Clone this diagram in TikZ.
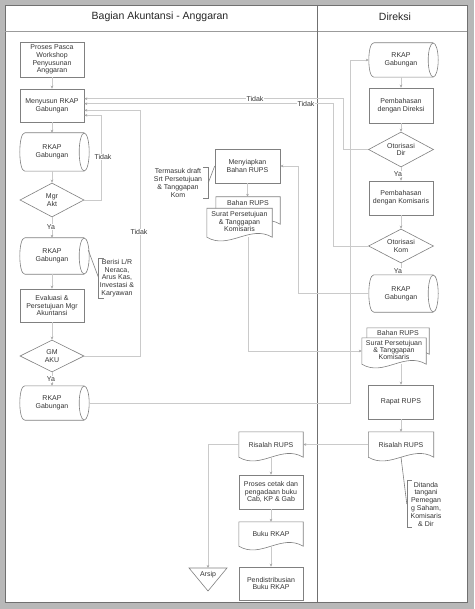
\documentclass[tikz,border=0pt]{standalone}
\usepackage{fontspec}
\setmainfont{Liberation Sans}
\usetikzlibrary{shapes.geometric,calc,arrows.meta,backgrounds}
\definecolor{shp}{HTML}{808080}
\definecolor{cn}{HTML}{CACACA}
\definecolor{tx}{HTML}{353535}
\definecolor{fr}{HTML}{707070}
\newcommand\drawcyl[2]{%
 \begin{pgfonlayer}{background}
 \draw[shpline] ($(#1.north west)+(5,0)$) -- (#1.north east)
   ($(#1.south west)+(5,0)$) -- (#1.south east)
   ($(#1.north west)+(5,0)$) .. controls ($(#1.north west)+(-1.67,0)$) and ($(#1.south west)+(-1.67,0)$) .. ($(#1.south west)+(5,0)$);
 \draw[shpline] (#1.east) ellipse [x radius=5, y radius=#2];
 \end{pgfonlayer}}
\newcommand\drawdoc[1]{%
 \begin{pgfonlayer}{background}
 \draw[shpline, fill=white] (#1.south west) -- (#1.north west) -- (#1.north east) -- (#1.south east)
   .. controls ($(#1.south east)+(-22,-13)$) and ($(#1.south west)+(22,13)$) .. (#1.south west) -- cycle;
 \end{pgfonlayer}}
\begin{document}
\begin{tikzpicture}[x=1pt,y=-1pt,
  every node/.style={text=tx, font=\fontsize{7}{7.8}\selectfont, align=center, inner sep=1pt},
  shpline/.style={draw=shp, line width=0.6pt},
  procbox/.style={rectangle, shpline, minimum width=64pt, minimum height=34pt},
  decbox/.style={diamond, shpline, minimum width=64pt, minimum height=34pt, aspect=1.9, inner sep=0pt},
  cylbox/.style={rectangle, minimum width=64pt, minimum height=36pt},
  docbox/.style={rectangle, minimum width=64pt, minimum height=25pt, inner sep=0.5pt},
  conn/.style={draw=cn, line width=0.5pt, -{Stealth[length=3pt,width=2.6pt,color=shp!70]}},
  lnk/.style={shpline},
  lbl/.style={fill=white, inner sep=0.6pt},
  tight/.style={font=\fontsize{7}{7.4}\selectfont},
  framec/.style={draw=fr, line width=0.7pt},
  head/.style={font=\fontsize{10.5}{12}\selectfont, text=black!85}
]
\useasboundingbox (0,0) rectangle (474,609);
\begin{pgfonlayer}{background}
\fill[black!28] (0,0) rectangle (474,609);
\fill[white] (5,5) rectangle (467,602);
\draw[framec] (5,5) rectangle (467,602);
\draw[framec, draw=fr!70] (5,31) -- (467,31);
\draw[framec] (317,5) -- (317,602);
\end{pgfonlayer}
\node[head] (h1) at (160,16.5) {Bagian Akuntansi - Anggaran};
\node[head] (h2) at (395,16.5) {Direksi};

% ---------- left column ----------
\node[procbox, minimum height=35pt] (p1) at (52,59.5) {Proses Pasca\\Workshop\\Penyusunan\\Anggaran};
\node[procbox, minimum height=33pt] (p2) at (52,105.5) {Menyusun RKAP\\Gabungan};
\node[cylbox, minimum height=38pt] (c1) at (52,152) {RKAP\\Gabungan};
\drawcyl{c1}{19}
\node[decbox] (d1) at (52,200) {Mgr\\Akt};
\node[cylbox, minimum height=36pt] (c2) at (52,256) {RKAP\\Gabungan};
\drawcyl{c2}{18}
\node[procbox, minimum height=33pt] (p3) at (52,305.5) {Evaluasi \&\\Persetujuan Mgr\\Akuntansi};
\node[decbox, minimum height=32pt] (d2) at (52,356) {GM\\AKU};
\node[cylbox, minimum height=34pt] (c3) at (52,403) {RKAP\\Gabungan};
\drawcyl{c3}{17}

\node (n1) at (117,278) {Berisi L/R\\Neraca,\\Arus Kas,\\Investasi \&\\Karyawan};
\draw[lnk] ($(n1.north west)+(5,0)$) -- (n1.north west) -- (n1.south west) -- ++(5,0);
\draw[lnk] ($(c2.east)+(4,-6)$) -- (n1.west);

% ---------- middle column ----------
\node[procbox, minimum width=65pt] (p4) at (247.5,166) {Menyiapkan\\Bahan RUPS};
\node[minimum width=60pt] (n2) at (178,183) {Termasuk draft\\Srt Persetujuan\\\& Tanggapan\\Kom};
\draw[lnk] ($(n2.north east)+(-5,0)$) -- (n2.north east) -- (n2.south east) -- ++(-5,0);
\draw[lnk] (n2.east) -- (p4.west);

\node[docbox, minimum height=27pt] (md1b) at (248,210.5) {};
\drawdoc{md1b}
\node[docbox, minimum width=65pt, minimum height=28.5pt] (md1f) at (239.5,222.75) {};
\drawdoc{md1f}
\node[tight] (md1t) at (239.5,221.5) {Surat Persetujuan\\\& Tanggapan\\Komisaris};
\node (md1l) at (248,202.5) {Bahan RUPS};

\node[docbox] (r1) at (271,444.5) {Risalah RUPS};
\drawdoc{r1}
\node[procbox] (p5) at (271,492) {Proses cetak dan\\pengadaan buku\\Cab, KP \& Gab};
\node[docbox, minimum height=24pt] (bk) at (271,534) {Buku RKAP};
\drawdoc{bk}
\node[procbox, minimum height=33pt] (p6) at (271,583.5) {Pendistribusian\\Buku RKAP};
\draw[shpline] (189,568) -- (227,568) -- (208,591) -- cycle;
\node (arsip) at (208,574.5) {Arsip};
\coordinate (arsiptop) at (208,568);

% ---------- right column ----------
\node[cylbox, minimum height=34pt] (c4) at (401,60) {RKAP\\Gabungan};
\drawcyl{c4}{17}
\node[procbox, minimum height=35pt] (p7) at (401,105.5) {Pembahasan\\dengan Direksi};
\node[decbox, minimum width=65pt, minimum height=35pt] (d3) at (401,149.5) {Otorisasi\\Dir};
\node[procbox] (p8) at (401,198) {Pembahasan\\dengan Komisaris};
\node[decbox, minimum width=65pt] (d4) at (401,246) {Otorisasi\\Kom};
\node[cylbox, minimum height=37pt] (c5) at (401,293.5) {RKAP\\Gabungan};
\drawcyl{c5}{18.5}
\node[docbox, minimum width=62pt, minimum height=26pt] (md2b) at (398,341) {};
\drawdoc{md2b}
\node[docbox, minimum height=26pt] (md2f) at (394,351) {};
\drawdoc{md2f}
\node[tight] (md2t) at (394,350) {Surat Persetujuan\\\& Tanggapan\\Komisaris};
\node (md2l) at (398,333) {Bahan RUPS};
\node[procbox, minimum width=65pt] (p9) at (401,402) {Rapat RUPS};
\node[docbox, minimum width=65pt] (r2) at (401,444.5) {Risalah RUPS};
\drawdoc{r2}
\node[minimum width=38pt] (n3) at (426,504) {Ditanda\\tangani\\Pemegan\\g Saham,\\Komisaris\\\& Dir};
\draw[lnk] ($(n3.north west)+(5,0)$) -- (n3.north west) -- (n3.south west) -- ++(5,0);
\draw[lnk] (r2.south) -- (n3.west);

% ---------- connectors ----------
\draw[conn] (p1) -- (p2);
\draw[conn] (p2) -- (c1);
\draw[conn] (c1) -- (d1);
\draw[conn] (d1) -- (c2);
\draw[conn] (c2) -- (p3);
\draw[conn] (p3) -- (d2);
\draw[conn] (d2) -- (c3);
\node[lbl] (ya1) at (51,227) {Ya};
\node[lbl] (ya2) at (51,379) {Ya};

\draw[conn] (d1.east) -- ++(17,0) |- ($(p2.south east)+(0,-7)$);
\draw[conn] (d2.east) -- ++(56,0) |- ($(p2.south east)+(0,-12)$);
\draw[conn] (d3.west) -- ++(-25,0) |- ($(p2.north east)+(0,10)$);
\draw[conn] (d4.west) -- ++(-34.5,0) |- ($(p2.north east)+(0,15)$);
\node[lbl] (t1) at (103,157) {Tidak};
\node[lbl] (t2) at (139,232) {Tidak};
\node[lbl] (t3) at (255,99) {Tidak};
\node[lbl] (t4) at (306,104) {Tidak};

\draw[conn] ($(c3.east)+(5,0)$) -| ($(c4.west)+(-19,0)$) -- (c4.west);

\draw[conn] (c4) -- (p7);
\draw[conn] (p7) -- (d3);
\draw[conn] (d3) -- (p8);
\draw[conn] (p8) -- (d4);
\draw[conn] (d4) -- (c5);
\node[lbl] (ya3) at (398,174) {Ya};
\node[lbl] (ya4) at (398,271) {Ya};

\draw[conn] (c5.west) -- ++(-71,0) |- (p4.east);
\draw[conn] (p4.south) -- (p4.south |- md1b.north);
\draw[conn] (md1b.south |- md1f.south) |- (md2f.west);
\draw[conn] (p9.north |- md2f.south) -- (p9.north);
\draw[conn] (p9) -- (r2);
\draw[conn] (r2.west) -- (r1.east);
\draw[conn] (r1) -- (p5);
\draw[conn] (p5) -- (bk);
\draw[conn] (bk) -- (p6);
\draw[conn] (r1.west) -| (arsiptop);
\end{tikzpicture}
\end{document}
